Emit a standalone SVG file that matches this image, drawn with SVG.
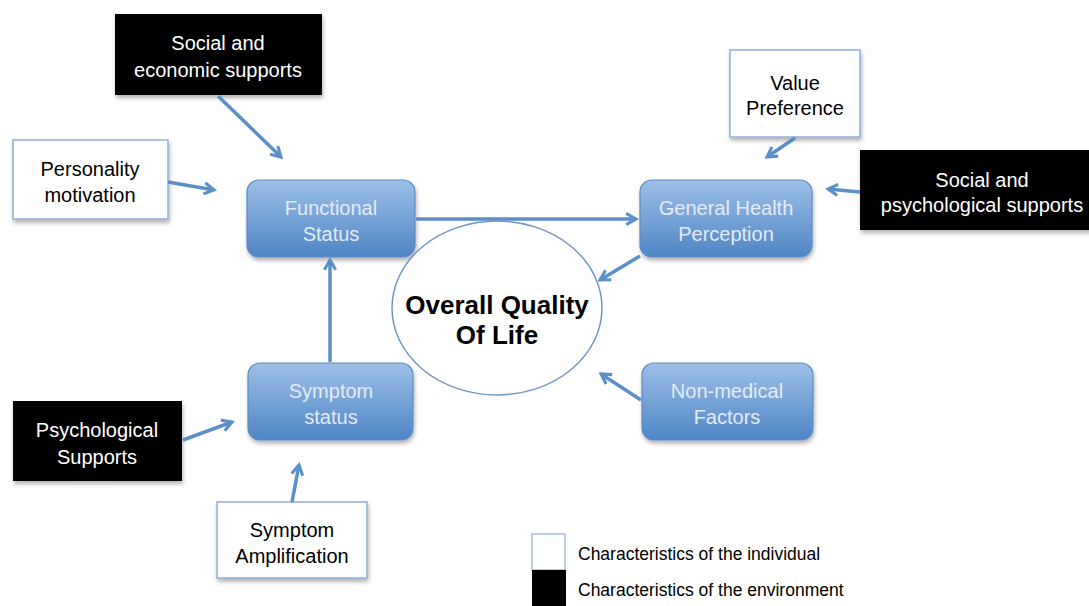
<svg xmlns="http://www.w3.org/2000/svg" width="1089" height="606" viewBox="0 0 1089 606">
<style>
.t{font-family:"Liberation Sans",Arial,sans-serif;font-size:20px;text-anchor:middle}
.wb{fill:#fff;stroke:#8eb0d8;stroke-width:1.5}
.bb{fill:#000}
.nd{fill:url(#g);stroke:#5b8cc4;stroke-width:1.2}
.nt{fill:#e3ecf7}
.c{stroke:#5b8fc8;stroke-width:3.5;fill:none;marker-end:url(#a)}
.lg{font-family:"Liberation Sans",Arial,sans-serif;font-size:17.5px}
</style>
<defs>
<linearGradient id="g" x1="0" y1="0" x2="0" y2="1">
<stop offset="0" stop-color="#9dc0e8"/>
<stop offset="1" stop-color="#4f85c5"/>
</linearGradient>
<filter id="s" x="-10%" y="-10%" width="130%" height="140%">
<feDropShadow dx="1" dy="3" stdDeviation="2" flood-color="#000" flood-opacity="0.3"/>
</filter>
<marker id="a" viewBox="0 0 10 10" refX="8" refY="5" markerWidth="4" markerHeight="4" orient="auto" markerUnits="strokeWidth">
<path d="M1,1 L8,5 L1,9" fill="none" stroke="#5b8fc8" stroke-width="2.2" stroke-linejoin="miter"/>
</marker>
</defs>
<rect width="1089" height="606" fill="#fff"/>
<g id="social-economic">
<rect class="bb" x="115" y="14" width="207" height="81" filter="url(#s)"/>
<text class="t" fill="#fff" x="218" y="50">Social and</text>
<text class="t" fill="#fff" x="218" y="77">economic supports</text>
</g>
<g id="personality">
<rect class="wb" x="13" y="140" width="155" height="79" filter="url(#s)"/>
<text class="t" x="90" y="176">Personality</text>
<text class="t" x="90" y="202">motivation</text>
</g>
<g id="functional">
<rect class="nd" x="247" y="180" width="168" height="77" rx="12" filter="url(#s)"/>
<text class="t nt" x="331" y="215">Functional</text>
<text class="t nt" x="331" y="241">Status</text>
</g>
<g id="general-health">
<rect class="nd" x="640" y="180" width="172" height="77" rx="12" filter="url(#s)"/>
<text class="t nt" x="726" y="215">General Health</text>
<text class="t nt" x="726" y="241">Perception</text>
</g>
<g id="value">
<rect class="wb" x="730" y="50" width="130" height="87" filter="url(#s)"/>
<text class="t" x="795" y="90">Value</text>
<text class="t" x="795" y="115">Preference</text>
</g>
<g id="social-psych">
<rect class="bb" x="860" y="150" width="235" height="80" filter="url(#s)"/>
<text class="t" fill="#fff" x="982" y="187">Social and</text>
<text class="t" fill="#fff" x="982" y="212">psychological supports</text>
</g>
<g id="overall">
<ellipse cx="497" cy="308" rx="105" ry="87" fill="#fff" stroke="#6f95c4" stroke-width="1.5"/>
<text class="t" x="497" y="314" style="font-size:26px;font-weight:bold">Overall Quality</text>
<text class="t" x="497" y="344" style="font-size:26px;font-weight:bold">Of Life</text>
</g>
<g id="symptom-status">
<rect class="nd" x="248" y="363" width="165" height="77" rx="12" filter="url(#s)"/>
<text class="t nt" x="331" y="398">Symptom</text>
<text class="t nt" x="331" y="424">status</text>
</g>
<g id="non-medical">
<rect class="nd" x="642" y="363" width="171" height="77" rx="12" filter="url(#s)"/>
<text class="t nt" x="727" y="398">Non-medical</text>
<text class="t nt" x="727" y="424">Factors</text>
</g>
<g id="psych-supports">
<rect class="bb" x="13" y="401" width="169" height="80" filter="url(#s)"/>
<text class="t" fill="#fff" x="97" y="437">Psychological</text>
<text class="t" fill="#fff" x="97" y="464">Supports</text>
</g>
<g id="amplification">
<rect class="wb" x="217" y="502" width="150" height="76" filter="url(#s)"/>
<text class="t" x="292" y="537">Symptom</text>
<text class="t" x="292" y="563">Amplification</text>
</g>
<g id="legend">
<rect x="532" y="534" width="33" height="36" fill="#fff" stroke="#8eb0d8" stroke-width="1.2"/>
<rect x="532" y="570" width="34" height="36" fill="#000"/>
<text class="lg" x="578" y="560">Characteristics of the individual</text>
<text class="lg" x="578" y="596">Characteristics of the environment</text>
</g>
<g id="connectors">
<line class="c" x1="218" y1="96" x2="281" y2="157"/>
<line class="c" x1="168" y1="182" x2="214" y2="190"/>
<line class="c" x1="416" y1="219" x2="636" y2="219"/>
<line class="c" x1="795" y1="138" x2="767" y2="157"/>
<line class="c" x1="860" y1="192" x2="828" y2="189"/>
<line class="c" x1="640" y1="256" x2="600" y2="280"/>
<line class="c" x1="641" y1="400" x2="601" y2="374"/>
<line class="c" x1="330" y1="362" x2="330" y2="260"/>
<line class="c" x1="183" y1="440" x2="232" y2="422"/>
<line class="c" x1="292" y1="502" x2="299" y2="465"/>
</g>
</svg>
